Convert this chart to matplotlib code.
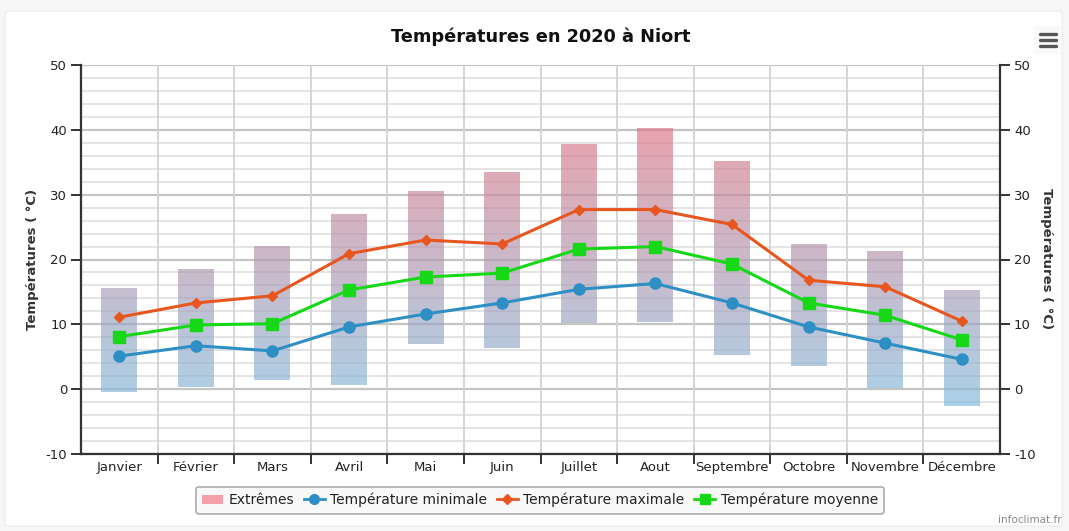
import numpy as np
import matplotlib
matplotlib.use("Agg")
import matplotlib.pyplot as plt
from matplotlib.colors import LinearSegmentedColormap, Normalize
from matplotlib.lines import Line2D
from matplotlib.patches import Patch, FancyBboxPatch

months = ["Janvier", "Février", "Mars", "Avril", "Mai", "Juin", "Juillet",
          "Aout", "Septembre", "Octobre", "Novembre", "Décembre"]
extreme_low = [-0.4, 0.4, 1.4, 0.6, 6.9, 6.3, 10.2, 10.3, 5.2, 3.5, 0.2, -2.6]
extreme_high = [15.5, 18.6, 22.0, 26.9, 30.4, 33.3, 37.8, 40.1, 35.0, 22.2, 21.2, 15.2]
t_min = [5.1, 6.7, 5.9, 9.6, 11.6, 13.3, 15.4, 16.3, 13.3, 9.6, 7.1, 4.6]
t_max = [11.1, 13.3, 14.4, 20.9, 23.0, 22.4, 27.7, 27.7, 25.4, 16.8, 15.8, 10.5]
t_moy = [8.1, 9.9, 10.1, 15.3, 17.3, 17.9, 21.6, 22.0, 19.3, 13.3, 11.4, 7.6]

plt.rcParams['font.family'] = ['DejaVu Sans']
plt.rcParams['axes.unicode_minus'] = False

fig = plt.figure(figsize=(10.69, 5.31), dpi=100, facecolor='#f6f6f6')
# white chart panel
panel = FancyBboxPatch((5/1069, 5/531), 1 - 12/1069, 1 - 16/531,
                       boxstyle="round,pad=0,rounding_size=0.005",
                       transform=fig.transFigure, facecolor='white',
                       edgecolor='#eeeeee', lw=1, zorder=-10)
fig.patches.append(panel)

ax = fig.add_axes([81/1069, 1 - 454/531, (1000 - 81)/1069, (454 - 65)/531])
ax.set_facecolor('white')
ax.set_xlim(-0.5, 11.5)
ax.set_ylim(-10, 50)

# grid
for v in np.arange(-10, 51, 2):
    if v % 10 == 0:
        ax.axhline(v, color='#c4c4c4', lw=1.6, zorder=0.5)
    else:
        ax.axhline(v, color='#dcdcdc', lw=1.1, zorder=0.5)
for b in np.arange(0.5, 11.5, 1):
    ax.axvline(b, color='#d2d2d2', lw=1.3, zorder=0.5)

# gradient bars
cmap = LinearSegmentedColormap.from_list('ext', [(131/255, 188/255, 222/255),
                                                 (222/255, 119/255, 134/255)])
norm = Normalize(vmin=-3, vmax=41)
w = 0.47
x = np.arange(len(months))
for xi, lo, hi in zip(x, extreme_low, extreme_high):
    yy = np.linspace(hi, lo, 200)[:, None]
    ax.imshow(norm(yy), cmap=cmap, vmin=0, vmax=1, aspect='auto',
              extent=[xi - w/2, xi + w/2, lo, hi], alpha=0.68,
              interpolation='bilinear', zorder=1)
ax.set_xlim(-0.5, 11.5)
ax.set_ylim(-10, 50)

c_min = '#2e8fc5'
c_max = '#e8561f'
c_moy = '#17d817'
ax.plot(x, t_min, color=c_min, lw=2.2, marker='o', ms=8, zorder=3)
ax.plot(x, t_max, color=c_max, lw=2.2, marker='D', ms=5.5, zorder=3)
ax.plot(x, t_moy, color=c_moy, lw=2.2, marker='s', ms=8, zorder=3)

# axes styling
ax.spines['top'].set_visible(False)
for s in ['left', 'right', 'bottom']:
    ax.spines[s].set_color('#333333')
    ax.spines[s].set_linewidth(1.6)

ax.set_yticks(np.arange(-10, 51, 10))
ax.tick_params(axis='y', which='both', direction='out', length=7, width=1.4,
               color='#333333', labelsize=9.5, labelcolor='#222222',
               left=True, right=True, labelleft=True, labelright=True, pad=3)
ax.set_xticks(x)
ax.set_xticklabels(months)
ax.set_xticks(np.arange(0.5, 11.5, 1), minor=True)
ax.tick_params(axis='x', which='major', length=0, labelsize=9.5,
               labelcolor='#222222', pad=5)
ax.tick_params(axis='x', which='minor', length=7, width=1.4, color='#333333',
               direction='out')

fig.text(33/1069, 1 - 259/531, 'Températures ( °C)', rotation=90,
         fontsize=9.5, fontweight='bold', color='#333333',
         ha='center', va='center')
fig.text(1046/1069, 1 - 259/531, 'Températures ( °C)', rotation=-90,
         fontsize=9.5, fontweight='bold', color='#333333',
         ha='center', va='center')

fig.text(541/1069, 1 - 37/531, 'Températures en 2020 à Niort', fontsize=12.8,
         fontweight='bold', color='#111111', ha='center', va='center')

# legend
handles = [Patch(facecolor='#f4a0a6', edgecolor='none'),
           Line2D([], [], color=c_min, lw=2, marker='o', ms=7),
           Line2D([], [], color=c_max, lw=2, marker='D', ms=5),
           Line2D([], [], color=c_moy, lw=2, marker='s', ms=7)]
labels = ['Extrêmes', 'Température minimale', 'Température maximale',
          'Température moyenne']
leg = fig.legend(handles, labels, loc='center', bbox_to_anchor=(540/1069, 1 - 500/531),
                 ncol=4, frameon=True, fontsize=10, handlelength=1.5,
                 handletextpad=0.4, columnspacing=0.7, borderpad=0.45,
                 fancybox=True)
leg.get_frame().set_edgecolor('#999999')
leg.get_frame().set_linewidth(1.2)
leg.get_frame().set_facecolor('#f8f8f8')
for t in leg.get_texts():
    t.set_color('#222222')

# menu icon
icon_ax = fig.add_axes([1034/1069, 1 - 54/531, 28/1069, 28/531])
icon_ax.set_xlim(0, 1)
icon_ax.set_ylim(0, 1)
icon_ax.axis('off')
icon_ax.add_patch(FancyBboxPatch((0.0, 0.0), 1.0, 1.0,
                                 boxstyle='round,pad=0,rounding_size=0.12',
                                 facecolor='#f9f9f9', edgecolor='none'))
for yv in [0.28, 0.5, 0.72]:
    icon_ax.plot([0.2, 0.8], [yv, yv], color='#555555', lw=2.4,
                 solid_capstyle='round')

fig.text(1062/1069, 1 - 520/531, 'infoclimat.fr', fontsize=7.5,
         color='#888888', ha='right', va='center')

fig.savefig('out.png', dpi=100, facecolor=fig.get_facecolor())
